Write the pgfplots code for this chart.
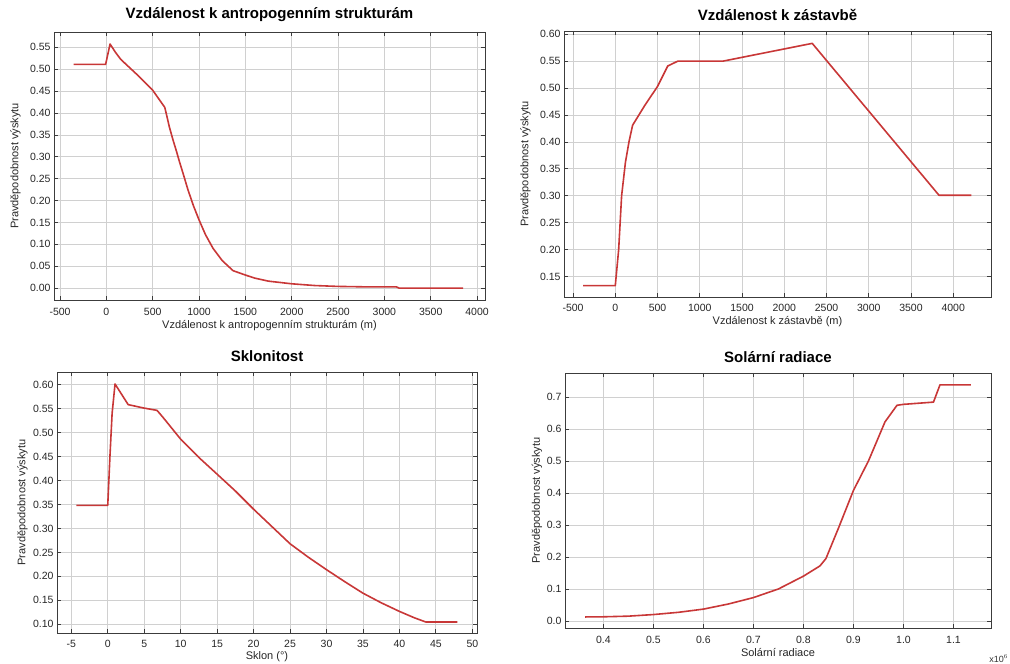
\documentclass[border=0pt]{standalone}
\usepackage{fontspec}
\setmainfont{Liberation Sans}
\usepackage{pgfplots}
\pgfplotsset{compat=1.18}
\definecolor{curve}{RGB}{200,55,55}
\definecolor{gridc}{RGB}{208,208,208}
\definecolor{axc}{RGB}{60,60,60}
\pgfplotsset{
  mystyle/.style={
    scale only axis,
    anchor=south west,
    axis line style={axc, line width=0.8pt},
    grid=major,
    major grid style={gridc, line width=0.8pt},
    tick align=inside,
    major tick length=4pt,
    tick style={axc, line width=0.8pt},
    scaled ticks=false,
    /pgf/number format/assume math mode=true,
    /pgf/number format/1000 sep={},
    ticklabel style={font=\fontsize{10.5}{12}\selectfont, text=black!85},
    label style={font=\fontsize{11}{13}\selectfont, text=black!85},
    title style={font=\fontsize{15}{18}\selectfont\bfseries, anchor=center},
    ylabel={Pravděpodobnost výskytu},
  },
  curvestyle/.style={curve, line width=1.6pt, no marks, line join=round},
}
\begin{document}
\begin{tikzpicture}
\path[use as bounding box] (0,0) rectangle (1010pt,664pt);

% Panel 1
\begin{axis}[mystyle, at={(54pt,364pt)}, width=431pt, height=268pt,
  xmin=-565, xmax=4086, ymin=-0.027, ymax=0.585,
  xtick={-500,0,500,1000,1500,2000,2500,3000,3500,4000},
  ytick={0,0.05,0.10,0.15,0.20,0.25,0.30,0.35,0.40,0.45,0.50,0.55},
  yticklabel style={/pgf/number format/.cd, fixed, fixed zerofill, precision=2},
  xticklabel style={yshift=-4.5pt},
  title={Vzdálenost k antropogenním strukturám},
  title style={at={(0.5,1.042)}},
  xlabel={Vzdálenost k antropogenním strukturám (m)},
  xlabel style={at={(axis description cs:0.5,-0.095)}, anchor=center},
  ylabel style={at={(axis description cs:-0.0896,0.5)}, anchor=center},
]
\addplot[curvestyle] coordinates {
(-353,0.511) (-8,0.511) (40,0.5575) (100,0.538) (150,0.524) (198,0.514)
(350,0.484) (500,0.452) (630,0.413) (645,0.400) (680,0.368) (720,0.338)
(756,0.313) (790,0.288) (828,0.262) (880,0.225) (940,0.188) (1000,0.156)
(1070,0.122) (1151,0.091) (1250,0.063) (1367,0.040) (1500,0.030)
(1600,0.023) (1750,0.016) (2000,0.010) (2250,0.006) (2500,0.004)
(2800,0.003) (3130,0.003) (3160,0.000) (3850,0.000)
};
\end{axis}

% Panel 2
\begin{axis}[mystyle, at={(564pt,367pt)}, width=427pt, height=266pt,
  xmin=-607, xmax=4447, ymin=0.112, ymax=0.606,
  xtick={-500,0,500,1000,1500,2000,2500,3000,3500,4000},
  ytick={0.15,0.20,0.25,0.30,0.35,0.40,0.45,0.50,0.55,0.60},
  yticklabel style={/pgf/number format/.cd, fixed, fixed zerofill, precision=2},
  xticklabel style={yshift=-3.5pt},
  title={Vzdálenost k zástavbě},
  title style={at={(0.5,1.039)}},
  xlabel={Vzdálenost k zástavbě (m)},
  xlabel style={at={(axis description cs:0.5,-0.094)}, anchor=center},
  ylabel style={at={(axis description cs:-0.0904,0.5)}, anchor=center},
]
\addplot[curvestyle] coordinates {
(-381,0.133) (0,0.133) (40,0.20) (75,0.30) (120,0.362) (162,0.400)
(205,0.431) (350,0.468) (500,0.503) (621,0.541) (740,0.550) (1274,0.550)
(2331,0.583) (3831,0.301) (4216,0.301)
};
\end{axis}

% Panel 3
\begin{axis}[mystyle, at={(57pt,31pt)}, width=420pt, height=261pt,
  xmin=-6.96, xmax=50.64, ymin=0.082, ymax=0.626,
  xtick={-5,0,5,10,15,20,25,30,35,40,45,50},
  ytick={0.10,0.15,0.20,0.25,0.30,0.35,0.40,0.45,0.50,0.55,0.60},
  yticklabel style={/pgf/number format/.cd, fixed, fixed zerofill, precision=2},
  xticklabel style={yshift=-4pt},
  title={Sklonitost},
  title style={at={(0.5,1.038)}},
  xlabel={Sklon (°)},
  xlabel style={at={(axis description cs:0.5,-0.092)}, anchor=center},
  ylabel style={at={(axis description cs:-0.082,0.5)}, anchor=center},
]
\addplot[curvestyle] coordinates {
(-4.32,0.348) (0,0.348) (0.3,0.45) (0.6,0.54) (1.0,0.601) (2.8,0.558)
(4.9,0.551) (6.76,0.546) (7.6,0.531) (10,0.486) (12.7,0.445) (15,0.413)
(17.5,0.378) (20,0.340) (22.5,0.304) (25,0.268) (27.5,0.240) (30,0.214)
(32.5,0.189) (35,0.165) (37.5,0.145) (40,0.127) (42,0.114) (43.6,0.105)
(47.95,0.105)
};
\end{axis}

% Panel 4
\begin{axis}[mystyle, at={(565pt,36pt)}, width=426pt, height=255pt,
  xmin=0.3233, xmax=1.175, ymin=-0.022, ymax=0.775,
  xtick={0.4,0.5,0.6,0.7,0.8,0.9,1.0,1.1},
  ytick={0,0.1,0.2,0.3,0.4,0.5,0.6,0.7},
  yticklabel style={/pgf/number format/.cd, fixed, fixed zerofill, precision=1},
  xticklabel style={yshift=-5pt, /pgf/number format/.cd, fixed, fixed zerofill, precision=1},
  title={Solární radiace},
  title style={at={(0.5,1.037)}},
  xlabel={Solární radiace},
  xlabel style={at={(axis description cs:0.5,-0.098)}, anchor=center},
  ylabel style={at={(axis description cs:-0.066,0.5)}, anchor=center},
  clip=false,
]
\addplot[curvestyle] coordinates {
(0.3633,0.0125) (0.4,0.013) (0.45,0.015) (0.5,0.020) (0.55,0.027)
(0.6,0.037) (0.65,0.053) (0.7,0.073) (0.75,0.100) (0.8,0.140)
(0.833,0.172) (0.845,0.195) (0.87,0.29) (0.9,0.408) (0.93,0.50)
(0.963,0.622) (0.987,0.674) (1.0,0.677) (1.06,0.684) (1.073,0.738)
(1.135,0.738)
};
\node[font=\fontsize{9}{10}\selectfont, text=black!80, anchor=center]
  at (axis description cs:1.018,-0.12) {x10$^{6}$};
\end{axis}
\end{tikzpicture}
\end{document}
